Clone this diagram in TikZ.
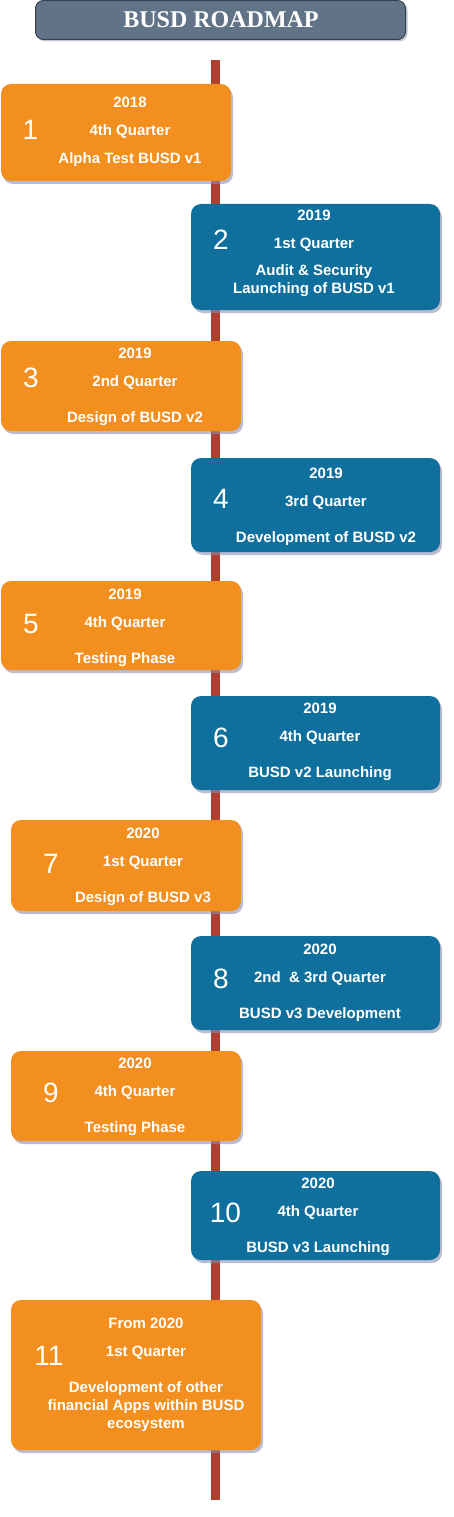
\documentclass[tikz,border=0pt]{standalone}
\usepackage{fontspec}
\setmainfont{Liberation Serif}
\setsansfont{Liberation Sans}
\usetikzlibrary{shadows}
\definecolor{orangebox}{HTML}{F28F1E}
\definecolor{bluebox}{HTML}{10709D}
\definecolor{spinered}{HTML}{AE3F2E}
\definecolor{titlegray}{HTML}{617387}
\definecolor{titleedge}{HTML}{36414F}
\definecolor{shadecol}{HTML}{8C90B0}
\begin{document}
\begin{tikzpicture}[x=1pt, y=-1pt,
  card/.style={rectangle, rounded corners=10pt, inner sep=0pt,
    drop shadow={shadow xshift=2pt, shadow yshift=-3pt, fill=shadecol, opacity=.6}},
  obox/.style={card, fill=orangebox},
  bbox/.style={card, fill=bluebox},
  txt/.style={text=white, font=\sffamily\bfseries\fontsize{15}{18}\selectfont, inner sep=0pt, anchor=base},
  many/.style={txt, anchor=center, align=center},
  num/.style={text=white, font=\sffamily\fontsize{28}{30}\selectfont, inner sep=0pt}]
\useasboundingbox (0,0) rectangle (454,1517);
% title
\node[rectangle, rounded corners=8pt, fill=titlegray, draw=titleedge, line width=1pt,
  minimum width=370pt, minimum height=39pt,
  drop shadow={shadow xshift=2pt, shadow yshift=-2pt, fill=shadecol, opacity=.5}] (title) at (220.5,20) {};
\node[text=white, font=\rmfamily\bfseries\fontsize{24}{28}\selectfont, inner sep=0pt] (titletext) at (221,20) {BUSD ROADMAP};
% spine
\coordinate (top) at (215,60);
\coordinate (bot) at (215,1500);
\draw[spinered, line width=9pt, drop shadow={shadow xshift=1.5pt, shadow yshift=-1pt, fill=shadecol, opacity=.5}] (top) -- (bot);
% 1
\node[obox, minimum width=230pt, minimum height=97pt] (b1) at (116,132.5) {};
\node[num] (n1) at (30.5,130) {1};
\node[txt] (y1) at (130,108) {2018};
\node[txt] (q1) at (130,136) {4th Quarter};
\node[txt] (d1) at (130,164) {Alpha Test BUSD v1};
% 2
\node[bbox, minimum width=249pt, minimum height=106pt] (b2) at (315.5,257) {};
\node[num] (n2) at (221,240) {2};
\node[txt] (y2) at (314,220) {2019};
\node[txt] (q2) at (314,248) {1st Quarter};
\node[many] (d2) at (314,281) {Audit \& Security\\Launching of BUSD v1};
% 3
\node[obox, minimum width=240pt, minimum height=90pt] (b3) at (121,386) {};
\node[num] (n3) at (31,377.5) {3};
\node[txt] (y3) at (135,358) {2019};
\node[txt] (q3) at (135,386) {2nd Quarter};
\node[txt] (d3) at (135,422) {Design of BUSD v2};
% 4
\node[bbox, minimum width=249pt, minimum height=94pt] (b4) at (315.5,505) {};
\node[num] (n4) at (221,499) {4};
\node[txt] (y4) at (326,478) {2019};
\node[txt] (q4) at (326,506) {3rd Quarter};
\node[txt] (d4) at (326,542) {Development of BUSD v2};
% 5
\node[obox, minimum width=240pt, minimum height=89pt] (b5) at (121,625.5) {};
\node[num] (n5) at (31,624) {5};
\node[txt] (y5) at (125,599) {2019};
\node[txt] (q5) at (125,627) {4th Quarter};
\node[txt] (d5) at (125,663) {Testing Phase};
% 6
\node[bbox, minimum width=249pt, minimum height=94pt] (b6) at (315.5,743) {};
\node[num] (n6) at (221,738) {6};
\node[txt] (y6) at (320,713) {2019};
\node[txt] (q6) at (320,741) {4th Quarter};
\node[txt] (d6) at (320,777) {BUSD v2 Launching};
% 7
\node[obox, minimum width=230pt, minimum height=91pt] (b7) at (126,865.5) {};
\node[num] (n7) at (51,863.5) {7};
\node[txt] (y7) at (143,838) {2020};
\node[txt] (q7) at (143,866) {1st Quarter};
\node[txt] (d7) at (143,902) {Design of BUSD v3};
% 8
\node[bbox, minimum width=249pt, minimum height=94pt] (b8) at (315.5,983) {};
\node[num] (n8) at (221,979) {8};
\node[txt] (y8) at (320,954) {2020};
\node[txt] (q8) at (320,982) {2nd\ \ \& 3rd Quarter};
\node[txt] (d8) at (320,1018) {BUSD v3 Development};
% 9
\node[obox, minimum width=230pt, minimum height=90pt] (b9) at (126,1096) {};
\node[num] (n9) at (51,1093) {9};
\node[txt] (y9) at (135,1068) {2020};
\node[txt] (q9) at (135,1096) {4th Quarter};
\node[txt] (d9) at (135,1132) {Testing Phase};
% 10
\node[bbox, minimum width=249pt, minimum height=89pt] (b10) at (315.5,1215.5) {};
\node[num] (n10) at (225.5,1213) {10};
\node[txt] (y10) at (318,1188) {2020};
\node[txt] (q10) at (318,1216) {4th Quarter};
\node[txt] (d10) at (318,1252) {BUSD v3 Launching};
% 11
\node[obox, minimum width=250pt, minimum height=150pt] (b11) at (136,1375) {};
\node[num] (n11) at (49,1356) {11};
\node[txt] (y11) at (146,1328) {From 2020};
\node[txt] (q11) at (146,1356) {1st Quarter};
\node[many] (d11) at (146,1406.5) {Development of other\\financial Apps within BUSD\\ecosystem};
\end{tikzpicture}
\end{document}
